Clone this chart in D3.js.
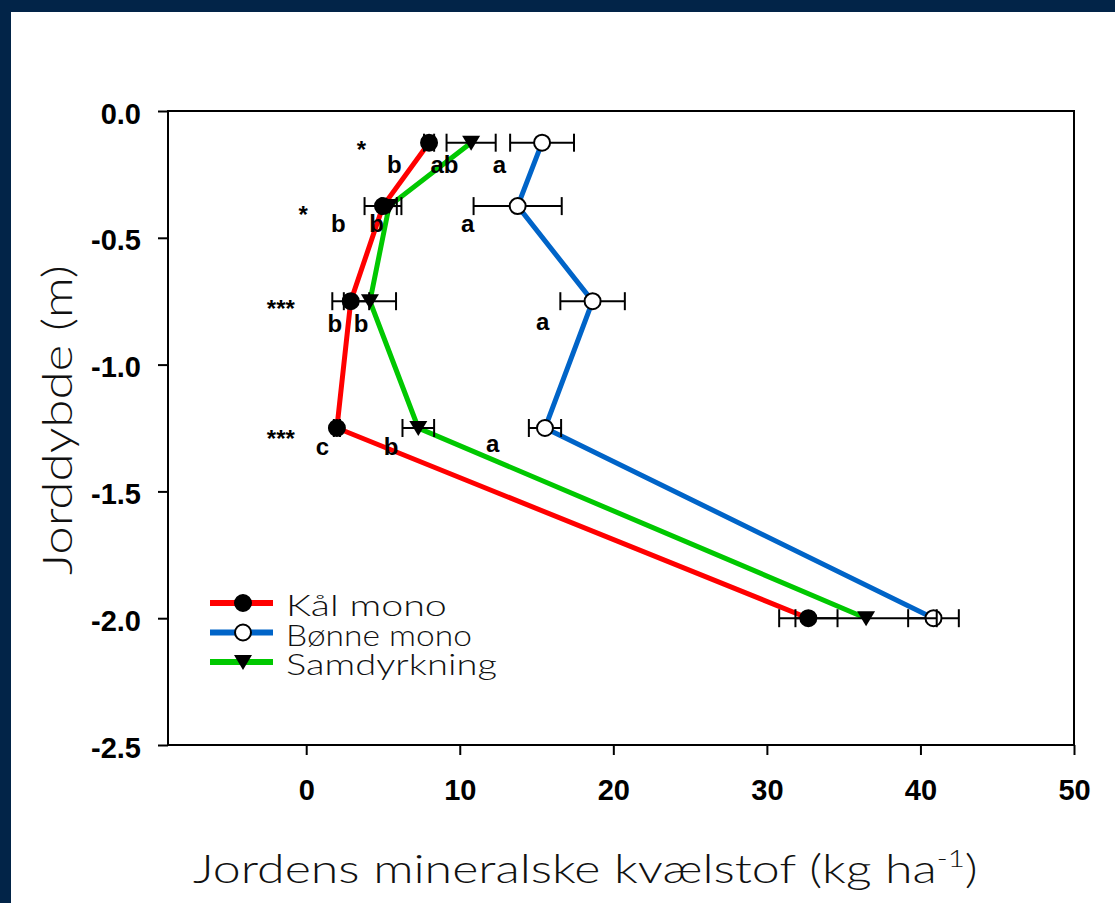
<!DOCTYPE html>
<html>
<head>
<meta charset="utf-8">
<script src="https://cdn.jsdelivr.net/npm/d3@7"></script>
<style>
  html, body { margin: 0; padding: 0; background: #fff; }
  svg { display: block; }
</style>
</head>
<body>
<div id="chart"></div>
<script>
"use strict";

// depth of each sampling layer (m)
const depths = [-0.125, -0.375, -0.75, -1.25, -2.0];

// mineral N (kg/ha) per treatment, with error
const kalMono = [8.0, 5.0, 2.9, 2.0, 32.7];
const kalErr = [0.33, 1.2, 1.2, 0.2, 1.9];
const bonneMono = [15.36, 13.77, 18.65, 15.55, 40.85];
const bonneErr = [2.08, 2.87, 2.1, 1.05, 1.65];
const samdyrkning = [10.74, 5.4, 4.15, 7.3, 36.46];
const samErr = [1.6, 0.5, 1.7, 1.03, 4.6];

const seriesNames = ['Kål mono', 'Bønne mono', 'Samdyrkning'];

const xTicks = [0, 10, 20, 30, 40, 50];
const yTicks = [0, -0.5, -1.0, -1.5, -2.0, -2.5];

// significance stars and letters, placed in data units
const annotations = [
  { text: '*', x: 3.6, y: -0.187 },
  { text: 'b', x: 5.74, y: -0.245 },
  { text: 'ab', x: 9.0, y: -0.245 },
  { text: 'a', x: 12.58, y: -0.245 },
  { text: '*', x: -0.2, y: -0.44 },
  { text: 'b', x: 2.09, y: -0.476 },
  { text: 'b', x: 4.58, y: -0.476 },
  { text: 'a', x: 10.52, y: -0.476 },
  { text: '***', x: -1.65, y: -0.814 },
  { text: 'b', x: 1.87, y: -0.87 },
  { text: 'b', x: 3.57, y: -0.87 },
  { text: 'a', x: 15.4, y: -0.865 },
  { text: '***', x: -1.65, y: -1.323 },
  { text: 'c', x: 1.06, y: -1.356 },
  { text: 'b', x: 5.52, y: -1.356 },
  { text: 'a', x: 12.14, y: -1.343 }
];

const W = 1115, H = 903;
const margin = { top: 111, left: 168, right: 41, bottom: 158 };
const plotW = W - margin.left - margin.right;
const plotH = H - margin.top - margin.bottom;

const titleFont = 'Lato, "Open Sans", sans-serif';
const tickFont = '"Liberation Sans", Arial, sans-serif';

// the reference face is wider than anything installed: widen the glyphs
// horizontally so the text spans the same length
function fitWidth(sel, target, base) {
  let len = sel.node().getComputedTextLength();
  let s = len > 0 ? target / len : 1;
  sel.attr('transform', base + ' scale(' + s.toFixed(3) + ',1)');
}

const svg = d3.select('#chart').append('svg')
  .attr('width', W)
  .attr('height', H);

// navy frame
svg.append('rect').attr('width', W).attr('height', H).attr('fill', '#022448');
svg.append('rect').attr('x', 11).attr('y', 12).attr('width', W - 11).attr('height', H - 12).attr('fill', '#fff');

const x = d3.scaleLinear().domain([-9, 50]).range([0, plotW]);
const y = d3.scaleLinear().domain([0, -2.5]).range([0, plotH]);

const g = svg.append('g').attr('transform', 'translate(' + margin.left + ',' + margin.top + ')');

const fmt = (d) => d3.format('.1f')(d).replace('\u2212', '-');

let xAxis = g.append('g')
  .attr('transform', 'translate(0,' + plotH + ')')
  .call(d3.axisBottom(x).tickValues(xTicks).tickFormat(d3.format('d')).tickSize(10).tickSizeOuter(0).tickPadding(24));

let yAxis = g.append('g')
  .call(d3.axisLeft(y).tickValues(yTicks).tickFormat(fmt).tickSize(10).tickSizeOuter(0).tickPadding(17));

[xAxis, yAxis].forEach((ax) => {
  ax.selectAll('line').attr('stroke', '#000').attr('stroke-width', 2);
  ax.select('.domain').remove();
  ax.selectAll('text')
    .attr('fill', '#000')
    .style('font-family', tickFont)
    .style('font-weight', 'bold')
    .style('font-size', '29px');
});
yAxis.selectAll('text').attr('dy', '0.42em');

// plot frame
g.append('rect')
  .attr('width', plotW)
  .attr('height', plotH)
  .attr('fill', 'none')
  .attr('stroke', '#000')
  .attr('stroke-width', 2);

const series = [
  { name: seriesNames[0], values: kalMono, err: kalErr, color: '#ff0000', marker: 'filled' },
  { name: seriesNames[1], values: bonneMono, err: bonneErr, color: '#0064c8', marker: 'open' },
  { name: seriesNames[2], values: samdyrkning, err: samErr, color: '#00c800', marker: 'tri' }
];

const line = d3.line().x((d) => x(d[0])).y((d) => y(d[1]));

function drawMarker(sel, type) {
  if (type === 'tri') {
    sel.append('path')
      .attr('d', 'M-9,-7L9,-7L0,8Z')
      .attr('fill', '#000');
  } else {
    sel.append('circle')
      .attr('r', 8)
      .attr('fill', type === 'open' ? '#fff' : '#000')
      .attr('stroke', '#000')
      .attr('stroke-width', 2);
  }
}

// lines first
series.forEach((s) => {
  g.append('path')
    .datum(d3.zip(s.values, depths))
    .attr('fill', 'none')
    .attr('stroke', s.color)
    .attr('stroke-width', 5)
    .attr('stroke-linejoin', 'miter')
    .attr('d', line);
});

// error bars and markers
series.forEach((s) => {
  let pts = d3.zip(s.values, s.err, depths);
  let eb = g.append('g').attr('stroke', '#000').attr('stroke-width', 2);
  pts.forEach((p) => {
    let cy = y(p[2]);
    eb.append('line').attr('x1', x(p[0] - p[1])).attr('x2', x(p[0] + p[1])).attr('y1', cy).attr('y2', cy);
    eb.append('line').attr('x1', x(p[0] - p[1])).attr('x2', x(p[0] - p[1])).attr('y1', cy - 9).attr('y2', cy + 9);
    eb.append('line').attr('x1', x(p[0] + p[1])).attr('x2', x(p[0] + p[1])).attr('y1', cy - 9).attr('y2', cy + 9);
  });
  pts.forEach((p) => {
    let m = g.append('g').attr('transform', 'translate(' + x(p[0]) + ',' + y(p[2]) + ')');
    drawMarker(m, s.marker);
  });
});

// significance labels
g.append('g').selectAll('text')
  .data(annotations)
  .enter()
  .append('text')
  .attr('x', (d) => x(d.x))
  .attr('y', (d) => y(d.y))
  .attr('text-anchor', 'middle')
  .style('font-family', tickFont)
  .style('font-weight', 'bold')
  .style('font-size', '24px')
  .attr('fill', '#000')
  .text((d) => d.text);

// legend
const legendWidths = [161, 186, 211];
let legend = svg.append('g').attr('transform', 'translate(210,603)');
series.forEach((s, i) => {
  let row = legend.append('g').attr('transform', 'translate(0,' + (i * 29.5) + ')');
  row.append('line').attr('x1', 0).attr('x2', 63).attr('stroke', s.color).attr('stroke-width', 6);
  let m = row.append('g').attr('transform', 'translate(33,0)');
  drawMarker(m, s.marker);
  let t = row.append('text')
    .style('font-family', titleFont)
    .style('font-weight', 300)
    .style('font-size', '30px')
    .attr('fill', '#111')
    .text(s.name);
  fitWidth(t, legendWidths[i], 'translate(76,13)');
});

// axis titles
let xt = svg.append('text')
  .style('font-family', titleFont)
  .style('font-weight', 300)
  .style('font-size', '39px')
  .attr('fill', '#111')
  .text('Jordens mineralske kvælstof (kg ha');
xt.append('tspan').attr('dy', -16).style('font-size', '23px').text('-1');
xt.append('tspan').attr('dy', 16).text(')');
fitWidth(xt, 785, 'translate(193,883)');

let yt = svg.append('text')
  .attr('text-anchor', 'middle')
  .style('font-family', titleFont)
  .style('font-weight', 300)
  .style('font-size', '42px')
  .attr('fill', '#111')
  .text('Jorddybde (m)');
fitWidth(yt, 310, 'translate(72,420) rotate(-90)');
</script>
</body>
</html>
